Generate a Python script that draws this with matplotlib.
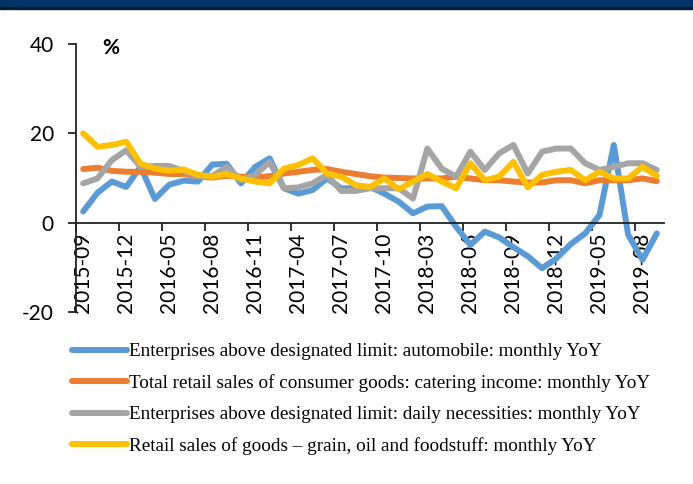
import matplotlib
matplotlib.use("Agg")
import matplotlib.pyplot as plt
from matplotlib.patches import Rectangle

# months in the series (Jan/Feb are reported together, so no separate points)
months = [
    "2015-09", "2015-10", "2015-11", "2015-12",
    "2016-03", "2016-04", "2016-05", "2016-06", "2016-07", "2016-08",
    "2016-09", "2016-10", "2016-11", "2016-12",
    "2017-03", "2017-04", "2017-05", "2017-06", "2017-07", "2017-08",
    "2017-09", "2017-10", "2017-11", "2017-12",
    "2018-03", "2018-04", "2018-05", "2018-06", "2018-07", "2018-08",
    "2018-09", "2018-10", "2018-11", "2018-12",
    "2019-03", "2019-04", "2019-05", "2019-06", "2019-07", "2019-08",
    "2019-09",
]

automobile = [2.5, 6.7, 9.2, 8.0, 12.5, 5.3, 8.5, 9.4, 9.2, 13.0,
              13.2, 8.8, 12.5, 14.4, 7.7, 6.5, 7.3, 9.9, 7.7, 7.7,
              8.0, 6.5, 4.7, 2.1, 3.6, 3.7, -0.9, -5.0, -2.0, -3.3,
              -5.5, -7.5, -10.2, -8.0, -4.8, -2.4, 1.7, 17.4, -2.7, -8.3,
              -2.4]
catering = [12.0, 12.3, 11.6, 11.4, 11.4, 11.2, 10.9, 10.9, 10.4, 10.1,
            10.5, 10.3, 10.1, 10.4, 11.0, 11.4, 11.8, 12.0, 11.4, 10.9,
            10.4, 10.1, 10.0, 9.9, 9.9, 9.9, 10.3, 9.9, 9.5, 9.5,
            9.2, 9.0, 9.0, 9.5, 9.5, 8.8, 9.5, 9.5, 9.5, 9.9,
            9.3]
necessities = [8.8, 9.9, 14.0, 16.2, 12.5, 12.7, 12.7, 11.6, 10.4, 10.4,
               12.5, 9.5, 10.7, 13.6, 7.7, 7.9, 8.8, 10.7, 7.1, 7.1,
               7.7, 7.7, 7.7, 5.4, 16.6, 12.1, 10.3, 15.9, 11.8, 15.5,
               17.4, 11.0, 15.9, 16.6, 16.6, 13.3, 11.8, 12.5, 13.3, 13.3,
               11.8]
grain_oil_food = [20.0, 17.0, 17.4, 18.1, 13.2, 12.1, 11.6, 11.9, 10.7, 10.3,
                  10.9, 9.9, 9.2, 8.8, 12.1, 12.9, 14.4, 11.0, 10.3, 8.4,
                  8.0, 9.9, 7.5, 9.2, 10.9, 9.2, 7.7, 13.3, 9.5, 10.3,
                  13.6, 7.9, 10.7, 11.4, 11.8, 9.5, 11.4, 9.9, 9.9, 12.5,
                  10.5]

series_labels = [
    "Enterprises above designated limit: automobile: monthly YoY",
    "Total retail sales of consumer goods: catering income: monthly YoY",
    "Enterprises above designated limit: daily necessities: monthly YoY",
    "Retail sales of goods \u2013 grain, oil and foodstuff: monthly YoY",
]
colors = ["#5B9BD5", "#ED7D31", "#A5A5A5", "#FFC000"]
y_ticks = [-20, 0, 20, 40]

W, H = 693, 484
fig = plt.figure(figsize=(W / 100, H / 100), dpi=100)
ax = fig.add_axes([76 / W, 1 - 312 / H, 588 / W, 268 / H])

# banner strip along the top edge
fig.patches.append(Rectangle((0, 1 - 7 / H), 1, 7 / H, transform=fig.transFigure,
                             color="#003366", zorder=0))
fig.patches.append(Rectangle((0, 1 - 9 / H), 1, 2 / H, transform=fig.transFigure,
                             color="#0b1a30", zorder=0))

x = list(range(len(months)))
handles = []
for vals, c, lab in zip([automobile, catering, necessities, grain_oil_food],
                        colors, series_labels):
    (ln,) = ax.plot(x, vals, color=c, lw=4.3, solid_joinstyle="round",
                    solid_capstyle="round", label=lab)
    handles.append(ln)

ax.set_xlim(-0.5, len(months) - 0.5)
ax.set_ylim(-20, 40)

for s in ["top", "right"]:
    ax.spines[s].set_visible(False)
ax.spines["bottom"].set_position(("data", 0))
for s in ["left", "bottom"]:
    ax.spines[s].set_linewidth(1.3)
    ax.spines[s].set_color("#222222")

# boundary ticks every third month, labels centred on the category
ax.set_xticks([i - 0.5 for i in range(0, len(months), 3)])
ax.set_xticklabels([])
ax.tick_params(axis="x", which="major", direction="out", length=6,
               width=1.3, color="#222222")
ax.set_xticks(list(range(0, len(months), 3)), minor=True)
ax.set_xticklabels(months[::3], minor=True, rotation=90, va="top", ha="center",
                   family="Lato", fontsize=15)
ax.tick_params(axis="x", which="minor", length=0, pad=7)

ax.set_yticks(y_ticks)
ax.set_yticklabels([str(v) for v in y_ticks], family="Lato", fontsize=15)
ax.tick_params(axis="y", direction="out", length=6, width=1.3,
               color="#222222", pad=10)

ax.text(0.045, 0.985, "%", transform=ax.transAxes, family="Lato",
        fontsize=15, fontweight="bold", va="center", ha="left")

leg = fig.legend(handles=handles, loc="upper left",
                 bbox_to_anchor=(72 / W, 1 - 343 / H), frameon=False,
                 prop={"family": "Liberation Serif", "size": 13.8},
                 handlelength=2.85, handletextpad=0.1, labelspacing=0.72,
                 borderpad=0, borderaxespad=0)
for h in leg.get_lines():
    h.set_linewidth(4.3)

fig.savefig("out.png", dpi=100)
